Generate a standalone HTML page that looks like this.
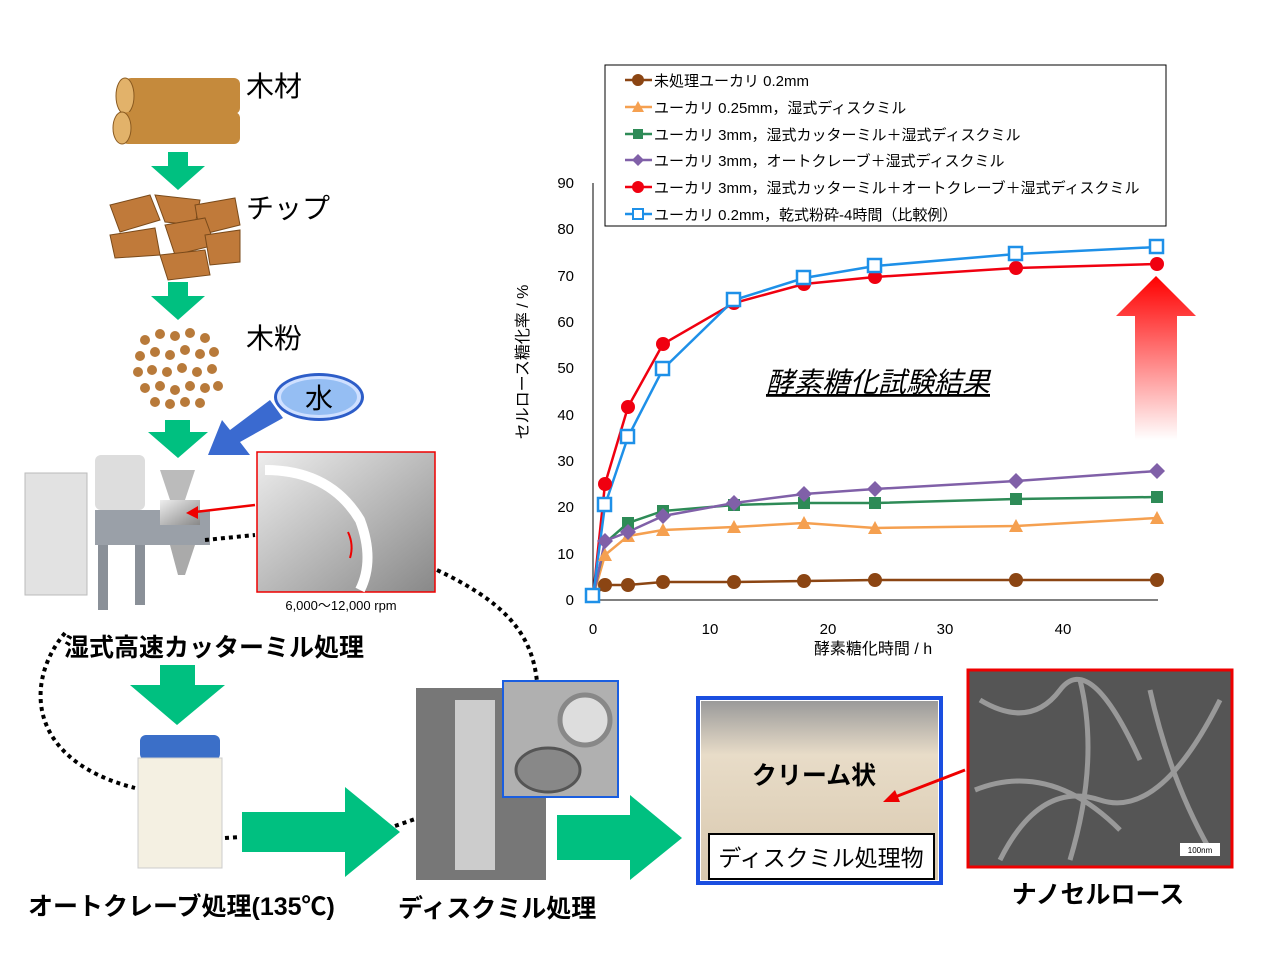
<!DOCTYPE html>
<html><head><meta charset="utf-8"><style>
body{margin:0;background:#fff}
svg{display:block;font-family:"Liberation Sans","Noto Sans CJK JP",sans-serif}
</style></head><body>
<svg width="1280" height="960" viewBox="0 0 1280 960">
<defs>
<linearGradient id="rg" x1="0" y1="0" x2="0" y2="1"><stop offset="0" stop-color="#f00"/><stop offset="1" stop-color="#fff"/></linearGradient>
<linearGradient id="mt" x1="0" y1="0" x2="1" y2="1"><stop offset="0" stop-color="#eee"/><stop offset="1" stop-color="#888"/></linearGradient>
<linearGradient id="cr" x1="0" y1="0" x2="0" y2="1"><stop offset="0" stop-color="#9a9a9a"/><stop offset="0.3" stop-color="#e8dcc8"/><stop offset="1" stop-color="#d8c8ae"/></linearGradient>
</defs>
<!-- logs -->
<rect x="125" y="78" width="115" height="36" rx="6" fill="#c58a3c"/>
<ellipse cx="125" cy="96" rx="9" ry="18" fill="#e2b26a" stroke="#8a5a20"/>
<rect x="122" y="112" width="118" height="32" rx="6" fill="#c58a3c"/>
<ellipse cx="122" cy="128" rx="9" ry="16" fill="#e2b26a" stroke="#8a5a20"/>
<text x="246" y="96" font-size="28">木材</text>
<!-- green arrows -->
<g fill="#00c080">
<polygon points="168,152 188,152 188,166 205,166 178,190 151,166 168,166"/>
<polygon points="168,282 188,282 188,296 205,296 178,320 151,296 168,296"/>
<polygon points="165,420 190,420 190,432 208,432 178,458 148,432 165,432"/>
<polygon points="160,665 195,665 195,685 225,685 177,725 130,685 160,685"/>
<polygon points="242,812 345,812 345,787 400,832 345,877 345,852 242,852"/>
<polygon points="557,815 630,815 630,795 682,838 630,880 630,860 557,860"/>
</g>
<!-- chips -->
<g fill="#c07a3a" stroke="#7a4a1a">
<polygon points="110,205 150,195 160,220 120,232"/><polygon points="155,195 200,200 195,225 165,222"/>
<polygon points="195,205 235,198 240,225 200,235"/><polygon points="110,235 155,228 160,255 115,258"/>
<polygon points="165,225 205,218 215,245 175,255"/><polygon points="160,255 205,250 210,275 168,280"/>
<polygon points="205,235 240,230 240,262 210,265"/>
</g>
<text x="246" y="218" font-size="28">チップ</text>
<!-- wood powder -->
<g fill="#b87a3a">
<circle cx="145" cy="340" r="5"/><circle cx="160" cy="334" r="5"/><circle cx="175" cy="336" r="5"/><circle cx="190" cy="333" r="5"/><circle cx="205" cy="338" r="5"/>
<circle cx="140" cy="356" r="5"/><circle cx="155" cy="352" r="5"/><circle cx="170" cy="355" r="5"/><circle cx="185" cy="350" r="5"/><circle cx="200" cy="354" r="5"/><circle cx="214" cy="352" r="5"/>
<circle cx="138" cy="372" r="5"/><circle cx="152" cy="370" r="5"/><circle cx="167" cy="372" r="5"/><circle cx="182" cy="368" r="5"/><circle cx="197" cy="372" r="5"/><circle cx="212" cy="369" r="5"/>
<circle cx="145" cy="388" r="5"/><circle cx="160" cy="386" r="5"/><circle cx="175" cy="390" r="5"/><circle cx="190" cy="386" r="5"/><circle cx="205" cy="388" r="5"/><circle cx="218" cy="386" r="5"/>
<circle cx="155" cy="402" r="5"/><circle cx="170" cy="404" r="5"/><circle cx="185" cy="402" r="5"/><circle cx="200" cy="403" r="5"/>
</g>
<text x="246" y="348" font-size="28">木粉</text>
<!-- water -->
<ellipse cx="319" cy="397" rx="45" ry="24" fill="#2d5dc8"/>
<ellipse cx="319" cy="397" rx="42" ry="21" fill="#cfe0ff"/>
<ellipse cx="319" cy="397" rx="38" ry="18" fill="#5b9be8" opacity=".5"/>
<text x="319" y="408" font-size="28" text-anchor="middle">水</text>
<polygon points="270,400 283,418 240,442 250,455 208,455 222,420 230,430" fill="#3a6ad0"/>
<!-- cutter mill machine -->
<rect x="25" y="473" width="62" height="122" fill="#e2e2e2" stroke="#bbb"/>
<rect x="95" y="455" width="50" height="55" rx="6" fill="#ddd"/>
<rect x="95" y="510" width="115" height="35" fill="#9aa0a8"/>
<rect x="98" y="545" width="10" height="65" fill="#8a9098"/><rect x="135" y="545" width="10" height="60" fill="#8a9098"/>
<polygon points="160,470 195,470 185,500 170,500" fill="#bbb"/>
<rect x="160" y="500" width="40" height="25" fill="url(#mt)"/>
<polygon points="170,545 195,545 185,575 178,575" fill="#aaa"/>
<!-- inset photo -->
<rect x="257" y="452" width="178" height="140" fill="url(#mt)" stroke="#e00" stroke-width="1.5"/>
<path d="M265 470 Q330 470 360 520 Q375 560 360 590" stroke="#fff" stroke-width="10" fill="none"/>
<path d="M348 532 Q354 545 350 558" stroke="#e00" stroke-width="2" fill="none"/>
<text x="341" y="610" font-size="13" text-anchor="middle">6,000～12,000 rpm</text>
<line x1="255" y1="505" x2="195" y2="512" stroke="#e00" stroke-width="2.5"/>
<polygon points="186,513 198,506 198,519" fill="#e00"/>
<text x="64" y="656" font-size="25" font-weight="bold">湿式高速カッターミル処理</text>
<!-- dotted paths -->
<g fill="none" stroke="#000" stroke-width="4" stroke-dasharray="4,4">
<path d="M65 633 C25 680,25 760,135 788"/>
<path d="M205 540 L255 535"/>
<path d="M437 570 C500 600,532 630,537 682"/>
<path d="M225 838 L240 837"/>
<path d="M395 826 L418 818"/>
</g>
<!-- autoclave -->
<rect x="140" y="735" width="80" height="25" rx="6" fill="#3b6fc8"/>
<rect x="138" y="758" width="84" height="110" fill="#f4f0e2" stroke="#ccc"/>
<text x="28" y="915" font-size="25" font-weight="bold">オートクレーブ処理(135℃)</text>
<!-- disk mill -->
<rect x="416" y="688" width="130" height="192" fill="#777"/>
<rect x="455" y="700" width="40" height="170" fill="#ccc"/>
<rect x="503" y="681" width="115" height="116" fill="#b0b0b0" stroke="#1a5ee0" stroke-width="2"/>
<circle cx="585" cy="720" r="25" fill="#ddd" stroke="#888" stroke-width="5"/>
<ellipse cx="548" cy="770" rx="32" ry="22" fill="#888" stroke="#555" stroke-width="3"/>
<text x="398" y="917" font-size="25" font-weight="bold">ディスクミル処理</text>
<!-- cream -->
<rect x="698" y="698" width="243" height="185" fill="none" stroke="#1a4ee0" stroke-width="4"/>
<rect x="701" y="701" width="237" height="179" fill="url(#cr)"/>
<text x="814" y="784" font-size="25" font-weight="bold" text-anchor="middle">クリーム状</text>
<rect x="709" y="834" width="225" height="45" fill="#fff" stroke="#000" stroke-width="2"/>
<text x="821" y="866" font-size="23" text-anchor="middle">ディスクミル処理物</text>
<!-- SEM -->
<rect x="968" y="670" width="264" height="197" fill="#555" stroke="#e00" stroke-width="3"/>
<g stroke="#aaa" stroke-width="5" fill="none" opacity=".8">
<path d="M980 700 Q1030 730 1060 690 T1140 760"/><path d="M1000 860 Q1040 780 1100 800 T1220 700"/>
<path d="M1080 680 Q1100 760 1070 860"/><path d="M1150 690 Q1170 780 1210 850"/><path d="M975 790 Q1050 760 1120 830"/>
</g>
<rect x="1180" y="843" width="40" height="13" fill="#fff"/><text x="1200" y="853" font-size="8" text-anchor="middle">100nm</text>
<line x1="965" y1="770" x2="895" y2="797" stroke="#e00" stroke-width="3"/>
<polygon points="883,802 895,790 900,802" fill="#e00"/>
<text x="1098" y="903" font-size="25" font-weight="bold" text-anchor="middle">ナノセルロース</text>
<!-- chart -->
<line x1="593" y1="183" x2="593" y2="600" stroke="#000"/>
<line x1="593" y1="600" x2="1158" y2="600" stroke="#000"/>
<g font-size="15" text-anchor="end">
<text x="574" y="605">0</text><text x="574" y="559">10</text><text x="574" y="512">20</text><text x="574" y="466">30</text><text x="574" y="420">40</text><text x="574" y="373">50</text><text x="574" y="327">60</text><text x="574" y="281">70</text><text x="574" y="234">80</text><text x="574" y="188">90</text>
</g>
<g font-size="15" text-anchor="middle">
<text x="593" y="634">0</text><text x="710" y="634">10</text><text x="828" y="634">20</text><text x="945" y="634">30</text><text x="1063" y="634">40</text>
<text x="873" y="654" font-size="16">酵素糖化時間 / h</text>
</g>
<text transform="translate(528,362) rotate(-90)" font-size="16" text-anchor="middle">セルロース糖化率 / %</text>
<text x="878" y="392" font-size="28" font-style="italic" text-anchor="middle" text-decoration="underline">酵素糖化試験結果</text>
<polygon points="1135,440 1177,440 1177,316 1196,316 1156,276 1116,316 1135,316" fill="url(#rg)"/>
<g fill="none" stroke-width="2.5">
<polyline stroke="#8b4513" points="593,597 605,585 628,585 663,582 734,582 804,581 875,580 1016,580 1157,580"/>
<polyline stroke="#f5a050" points="593,597 605,555 628,536 663,530 734,527 804,523 875,528 1016,526 1157,518"/>
<polyline stroke="#2e8b57" points="593,597 605,543 628,523 663,511 734,505 804,503 875,503 1016,499 1157,497"/>
<polyline stroke="#8060a8" points="593,597 605,541 628,532 663,516 734,503 804,494 875,489 1016,481 1157,471"/>
<polyline stroke="#f00010" points="593,597 605,484 628,407 663,344 734,303 804,284 875,277 1016,268 1157,264"/>
<polyline stroke="#1e90e8" points="593,596 605,505 628,437 663,369 734,300 804,278 875,266 1016,254 1157,247"/>
</g>
<g fill="#8b4513"><circle cx="605" cy="585" r="7"/><circle cx="628" cy="585" r="7"/><circle cx="663" cy="582" r="7"/><circle cx="734" cy="582" r="7"/><circle cx="804" cy="581" r="7"/><circle cx="875" cy="580" r="7"/><circle cx="1016" cy="580" r="7"/><circle cx="1157" cy="580" r="7"/></g>
<g fill="#f5a050"><polygon points="605,548 598,561 612,561"/><polygon points="628,529 621,542 635,542"/><polygon points="663,523 656,536 670,536"/><polygon points="734,520 727,533 741,533"/><polygon points="804,516 797,529 811,529"/><polygon points="875,521 868,534 882,534"/><polygon points="1016,519 1009,532 1023,532"/><polygon points="1157,511 1150,524 1164,524"/></g>
<g fill="#2e8b57"><rect x="622" y="517" width="12" height="12"/><rect x="657" y="505" width="12" height="12"/><rect x="728" y="499" width="12" height="12"/><rect x="798" y="497" width="12" height="12"/><rect x="869" y="497" width="12" height="12"/><rect x="1010" y="493" width="12" height="12"/><rect x="1151" y="491" width="12" height="12"/></g>
<g fill="#8060a8"><polygon points="605,533 613,541 605,549 597,541"/><polygon points="628,524 636,532 628,540 620,532"/><polygon points="663,508 671,516 663,524 655,516"/><polygon points="734,495 742,503 734,511 726,503"/><polygon points="804,486 812,494 804,502 796,494"/><polygon points="875,481 883,489 875,497 867,489"/><polygon points="1016,473 1024,481 1016,489 1008,481"/><polygon points="1157,463 1165,471 1157,479 1149,471"/></g>
<g fill="#f00010"><circle cx="605" cy="484" r="7"/><circle cx="628" cy="407" r="7"/><circle cx="663" cy="344" r="7"/><circle cx="734" cy="303" r="7"/><circle cx="804" cy="284" r="7"/><circle cx="875" cy="277" r="7"/><circle cx="1016" cy="268" r="7"/><circle cx="1157" cy="264" r="7"/></g>
<g fill="#fff" stroke="#1e90e8" stroke-width="2.5"><rect x="586" y="589" width="13" height="13"/><rect x="598" y="498" width="13" height="13"/><rect x="621" y="430" width="13" height="13"/><rect x="656" y="362" width="13" height="13"/><rect x="727" y="293" width="13" height="13"/><rect x="797" y="271" width="13" height="13"/><rect x="868" y="259" width="13" height="13"/><rect x="1009" y="247" width="13" height="13"/><rect x="1150" y="240" width="13" height="13"/></g>
<!-- legend -->
<rect x="605" y="65" width="561" height="161" fill="#fff" stroke="#000"/>
<g font-size="15">
<line x1="625" y1="80" x2="652" y2="80" stroke="#8b4513" stroke-width="2.5"/><circle cx="638" cy="80" r="6" fill="#8b4513"/><text x="654" y="86">未処理ユーカリ 0.2mm</text>
<line x1="625" y1="107" x2="652" y2="107" stroke="#f5a050" stroke-width="2.5"/><polygon points="638,101 632,112 644,112" fill="#f5a050"/><text x="654" y="113">ユーカリ 0.25mm，湿式ディスクミル</text>
<line x1="625" y1="134" x2="652" y2="134" stroke="#2e8b57" stroke-width="2.5"/><rect x="633" y="129" width="10" height="10" fill="#2e8b57"/><text x="654" y="140">ユーカリ 3mm，湿式カッターミル＋湿式ディスクミル</text>
<line x1="625" y1="160" x2="652" y2="160" stroke="#8060a8" stroke-width="2.5"/><polygon points="638,154 644,160 638,166 632,160" fill="#8060a8"/><text x="654" y="166">ユーカリ 3mm，オートクレーブ＋湿式ディスクミル</text>
<line x1="625" y1="187" x2="652" y2="187" stroke="#f00010" stroke-width="2.5"/><circle cx="638" cy="187" r="6" fill="#f00010"/><text x="654" y="193">ユーカリ 3mm，湿式カッターミル＋オートクレーブ＋湿式ディスクミル</text>
<line x1="625" y1="214" x2="652" y2="214" stroke="#1e90e8" stroke-width="2.5"/><rect x="633" y="209" width="10" height="10" fill="#fff" stroke="#1e90e8" stroke-width="2"/><text x="654" y="220">ユーカリ 0.2mm，乾式粉砕-4時間（比較例）</text>
</g>
</svg>
</body></html>
